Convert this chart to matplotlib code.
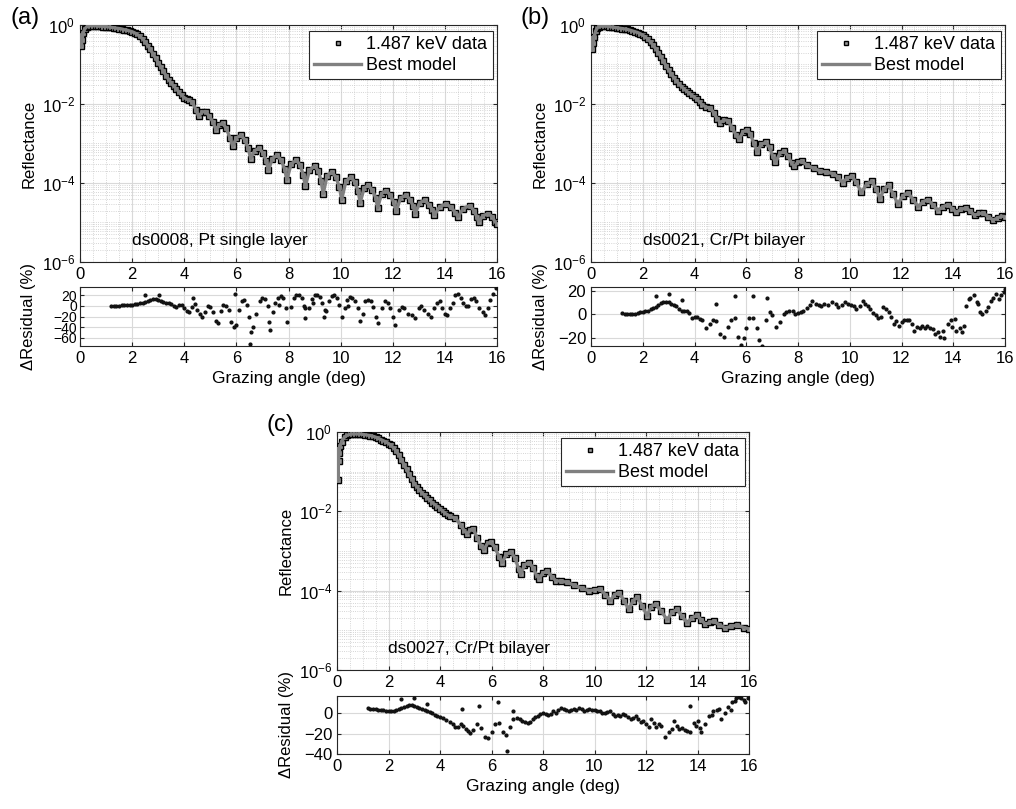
import numpy as np
import matplotlib
matplotlib.use("Agg")
import matplotlib.pyplot as plt
from matplotlib.ticker import MultipleLocator, LogLocator, NullFormatter

plt.rcParams['font.family'] = ['Liberation Sans', 'DejaVu Sans']
plt.rcParams['mathtext.fontset'] = 'custom'
plt.rcParams['mathtext.rm'] = 'Liberation Sans'
plt.rcParams['mathtext.it'] = 'Liberation Sans:italic'

# ---- panel (a): ds0008, Pt single layer ----
x_a = [0.02, 0.05, 0.08, 0.12, 0.18, 0.25, 0.3, 0.4, 0.5, 0.6, 0.7, 0.8, 0.9, 1.0, 1.1,
       1.2, 1.3, 1.4, 1.5, 1.6, 1.7, 1.8, 1.9, 2.0, 2.1, 2.2, 2.3, 2.4, 2.5, 2.6, 2.7, 2.8,
       2.9, 3.0, 3.1, 3.2, 3.3, 3.4, 3.5, 3.6, 3.7, 3.8, 3.9, 4.0, 4.1, 4.2, 4.3, 4.45, 4.55,
       4.7, 4.82, 4.95, 5.1, 5.22, 5.35, 5.47, 5.6, 5.75, 5.86, 6.0, 6.17, 6.32, 6.45, 6.55,
       6.7, 6.88, 7.03, 7.15, 7.23, 7.38, 7.56, 7.72, 7.85, 7.94, 8.1, 8.3, 8.45, 8.57, 8.65,
       8.8, 9.0, 9.15, 9.25, 9.33, 9.48, 9.66, 9.82, 9.95, 10.04, 10.2, 10.39, 10.55, 10.67,
       10.75, 10.9, 11.06, 11.22, 11.35, 11.42, 11.57, 11.74, 11.9, 12.03, 12.13, 12.3, 12.5,
       12.67, 12.78, 12.86, 13.03, 13.22, 13.4, 13.52, 13.6, 13.8, 14.05, 14.25, 14.4, 14.5,
       14.7, 14.95, 15.12, 15.22, 15.3, 15.45, 15.65, 15.82, 15.92, 16.0]
logR_a = [-0.25, -0.54, -0.37, -0.2, -0.1, -0.05, -0.03, -0.02, -0.02, -0.02, -0.03, -0.03,
          -0.04, -0.04, -0.05, -0.06, -0.07, -0.08, -0.09, -0.1, -0.12, -0.13, -0.15, -0.17,
          -0.2, -0.24, -0.29, -0.35, -0.43, -0.52, -0.62, -0.73, -0.84, -0.95, -1.06, -1.17,
          -1.28, -1.38, -1.47, -1.55, -1.62, -1.7, -1.78, -1.84, -1.88, -1.91, -1.94, -2.15,
          -2.31, -2.2, -2.19, -2.3, -2.45, -2.66, -2.52, -2.49, -2.6, -2.85, -3.07, -2.86,
          -2.79, -2.9, -3.12, -3.38, -3.18, -3.12, -3.25, -3.45, -3.68, -3.38, -3.3, -3.42,
          -3.65, -3.92, -3.52, -3.42, -3.55, -3.8, -4.08, -3.68, -3.57, -3.7, -3.95, -4.27,
          -3.82, -3.72, -3.85, -4.1, -4.42, -3.96, -3.85, -3.98, -4.2, -4.5, -4.13, -4.06,
          -4.18, -4.38, -4.63, -4.27, -4.19, -4.3, -4.48, -4.72, -4.38, -4.31, -4.42, -4.58,
          -4.78, -4.5, -4.44, -4.55, -4.68, -4.81, -4.6, -4.53, -4.62, -4.75, -4.86, -4.65,
          -4.57, -4.7, -4.85, -4.99, -4.83, -4.78, -4.85, -4.98, -5.03]
rx_a = [1.2, 1.3, 1.4, 1.5, 1.6, 1.7, 1.8, 1.9, 2.0, 2.1, 2.2, 2.3, 2.4, 2.5, 2.6, 2.7, 2.8,
        2.9, 3.0, 3.1, 3.2, 3.3, 3.4, 3.5, 3.6, 3.7, 3.8, 3.9, 4.0, 4.1, 4.2, 4.3, 4.4, 4.5,
        4.6, 4.7, 4.8, 4.9, 5.0, 5.1, 5.2, 5.3, 5.4, 5.5, 5.6, 5.7, 5.8, 5.9, 6.0, 6.1, 6.2,
        6.3, 6.4, 6.5, 6.55, 6.62, 6.75, 6.9, 7.0, 7.1, 7.2, 7.25, 7.3, 7.4, 7.5, 7.6, 7.7,
        7.8, 7.9, 7.95, 8.1, 8.2, 8.3, 8.4, 8.5, 8.6, 8.65, 8.8, 8.9, 9.0, 9.1, 9.2, 9.3, 9.35,
        9.45, 9.55, 9.65, 9.75, 9.85, 9.95, 10.05, 10.15, 10.25, 10.35, 10.45, 10.55, 10.65,
        10.75, 10.85, 10.95, 11.05, 11.15, 11.25, 11.35, 11.45, 11.6, 11.7, 11.8, 11.9, 12.0,
        12.1, 12.25, 12.35, 12.45, 12.6, 12.75, 12.85, 13.0, 13.1, 13.2, 13.35, 13.45, 13.6,
        13.7, 13.8, 13.9, 14.0, 14.1, 14.2, 14.3, 14.4, 14.5, 14.6, 14.7, 14.8, 14.9, 15.0,
        15.1, 15.2, 15.3, 15.45, 15.55, 15.65, 15.75, 15.85, 15.95,
        2.5, 3.05, 4.35, 5.95, 6.52, 8.62, 9.4, 7.65, 8.95, 10.3]
res_a = [0, 0, 0.3, 0.5, 0.8, 1.2, 1.5, 1.8, 2.2, 3, 3.5, 4.5, 6, 7, 9, 11, 12, 12, 10, 8,
         7, 6, 6, 4, 0, -2, 1, 2, -4, -10, -12, -2, 3, -8, -15, -20, -12, 0, -2, -12, -28,
         -32, -10, 2, 0, -8, -30, -40, -35, -8, 8, 10, 2, -20, -48, -40, -15, 8, 14, 12, 0,
         -30, -45, -12, 5, 15, 18, 14, -5, -30, -3, 15, 20, 20, 15, 0, -22, -5, 12, 20, 20,
         17, 5, -20, -10, 8, 19, 20, 15, 2, -20, -5, 10, 17, 15, 8, -5, -28, -15, 8, 11, 8,
         -2, -20, -33, -5, 8, 5, -5, -20, -35, -8, -2, -5, -15, -18, -22, -5, 0, -8, -15,
         -20, -5, 5, 8, -5, -15, -18, -5, 5, 20, 22, 15, 5, 0, 0, 12, 15, 8, -5, -12, -18,
         -5, 10, 22, 33,
         20, 20, 14, 22, -72, -5, -8, 2, 5, 0]

# ---- panel (b): ds0021, Cr/Pt bilayer ----
x_b = [0.02, 0.05, 0.08, 0.12, 0.18, 0.25, 0.3, 0.4, 0.5, 0.6, 0.7, 0.8, 0.9, 1.0, 1.1,
       1.2, 1.3, 1.4, 1.5, 1.6, 1.7, 1.8, 1.9, 2.0, 2.1, 2.2, 2.3, 2.4, 2.5, 2.6, 2.7, 2.8,
       2.9, 3.0, 3.1, 3.2, 3.3, 3.4, 3.5, 3.6, 3.7, 3.8, 3.9, 4.0, 4.1, 4.2, 4.3, 4.45, 4.6,
       4.75, 4.88, 5.0, 5.15, 5.3, 5.45, 5.6, 5.72, 5.88, 6.02, 6.15, 6.3, 6.42, 6.58, 6.75,
       6.9, 7.02, 7.13, 7.3, 7.46, 7.62, 7.75, 7.85, 8.0, 8.15, 8.35, 8.6, 8.85, 9.1, 9.35,
       9.55, 9.72, 9.9, 10.08, 10.25, 10.45, 10.65, 10.85, 11.02, 11.17, 11.32, 11.5, 11.68,
       11.86, 12.05, 12.25, 12.45, 12.64, 12.84, 13.03, 13.22, 13.4, 13.6, 13.8, 13.97, 14.12,
       14.3, 14.5, 14.66, 14.83, 15.0, 15.15, 15.35, 15.55, 15.72, 15.88, 16.0]
logR_b = [-0.32, -0.62, -0.45, -0.3, -0.15, -0.07, -0.04, -0.03, -0.03, -0.03, -0.04, -0.05,
          -0.06, -0.07, -0.08, -0.09, -0.1, -0.11, -0.13, -0.15, -0.17, -0.19, -0.22, -0.26,
          -0.3, -0.36, -0.43, -0.51, -0.6, -0.7, -0.8, -0.92, -1.03, -1.14, -1.24, -1.33,
          -1.42, -1.49, -1.56, -1.62, -1.68, -1.73, -1.78, -1.83, -1.88, -1.95, -2.02, -2.08,
          -2.1, -2.22, -2.38, -2.47, -2.4, -2.42, -2.6, -2.78, -2.89, -2.7, -2.66, -2.75, -3.0,
          -3.22, -3.02, -2.97, -3.1, -3.32, -3.48, -3.25, -3.2, -3.32, -3.5, -3.58, -3.47,
          -3.45, -3.55, -3.63, -3.69, -3.73, -3.76, -3.85, -3.99, -3.88, -3.83, -3.98, -4.24,
          -4.03, -3.96, -4.15, -4.4, -4.15, -4.06, -4.28, -4.54, -4.32, -4.25, -4.42, -4.6,
          -4.47, -4.42, -4.56, -4.7, -4.6, -4.55, -4.65, -4.74, -4.67, -4.63, -4.72, -4.82,
          -4.77, -4.76, -4.85, -4.94, -4.88, -4.84, -4.85]
rx_b = [1.2, 1.3, 1.4, 1.5, 1.6, 1.7, 1.8, 1.9, 2.0, 2.1, 2.2, 2.3, 2.4, 2.5, 2.6, 2.7, 2.8,
        2.9, 3.0, 3.1, 3.2, 3.3, 3.4, 3.5, 3.6, 3.7, 3.8, 3.9, 4.0, 4.1, 4.2, 4.3, 4.45, 4.6,
        4.7, 4.85, 5.0, 5.15, 5.3, 5.4, 5.55, 5.7, 5.8, 5.9, 6.0, 6.1, 6.25, 6.4, 6.5, 6.6,
        6.75, 6.9, 7.0, 7.15, 7.3, 7.45, 7.55, 7.65, 7.8, 7.9, 8.0, 8.1, 8.2, 8.35, 8.45, 8.55,
        8.7, 8.8, 8.9, 9.0, 9.15, 9.3, 9.45, 9.55, 9.7, 9.8, 9.95, 10.05, 10.15, 10.25, 10.4,
        10.5, 10.6, 10.7, 10.8, 10.9, 11.0, 11.1, 11.2, 11.3, 11.4, 11.5, 11.6, 11.7, 11.8,
        11.9, 12.0, 12.1, 12.2, 12.3, 12.4, 12.5, 12.6, 12.7, 12.8, 12.9, 13.0, 13.1, 13.2,
        13.3, 13.4, 13.5, 13.6, 13.65, 13.8, 13.9, 13.95, 14.05, 14.1, 14.25, 14.35, 14.4,
        14.5, 14.6, 14.65, 14.8, 14.9, 14.95, 15.05, 15.1, 15.25, 15.35, 15.45, 15.55, 15.65,
        15.75, 15.85, 15.95, 16.0,
        2.5, 3.0, 3.5, 4.85, 5.55, 6.25, 6.8]
res_b = [1, 0, 0, 0, 0.3, 0.5, 1, 1.5, 2, 2.5, 3, 4, 5, 6, 8, 9.5, 10, 10, 10, 9, 8, 7, 4,
         3, 3, 3, 1, -3, -2, -2, -4, -5, -12, -8, -5, -6, -17, -19, -11, -5, -3, -19, -26,
         -20, -12, -3, -3, -12, -22, -27, -5, 2, -1, -11, -7, 0, 2, 3, 3, 0, 1, 2, 3, 5, 8,
         11, 9, 8, 7, 9, 8, 10, 9, 6, 8, 10, 9, 8, 7, 4, 7, 11, 9, 7, 4, 1, -1, -3, -2, 6, 4,
         2, -2, -8, -6, -10, -7, -5, -5, -5, -8, -14, -11, -12, -10, -12, -10, -12, -13, -17,
         -15, -19, -14, -20, -8, -5, -11, -4, -14, -12, -15, -10, 7, 13, 14, 16, 10, 9, 2,
         0, 3, 6, 11, 14, 17, 13, 16, 19, 21,
         15, 17, 12, 9, 15, 15, 14]

# ---- panel (c): ds0027, Cr/Pt bilayer ----
x_c = [0.02, 0.04, 0.06, 0.08, 0.12, 0.18, 0.3, 0.4, 0.5, 0.6, 0.7, 0.8, 0.9, 1.0, 1.1,
       1.2, 1.3, 1.4, 1.5, 1.6, 1.7, 1.8, 1.9, 2.0, 2.1, 2.2, 2.3, 2.4, 2.5, 2.6, 2.7, 2.8,
       2.9, 3.0, 3.1, 3.2, 3.3, 3.4, 3.5, 3.6, 3.7, 3.8, 3.9, 4.0, 4.1, 4.2, 4.3, 4.4, 4.6,
       4.8, 4.95, 5.06, 5.18, 5.3, 5.45, 5.6, 5.7, 5.85, 5.98, 6.12, 6.3, 6.42, 6.58, 6.76,
       6.92, 7.05, 7.13, 7.28, 7.46, 7.62, 7.75, 7.85, 8.0, 8.17, 8.35, 8.5, 8.7, 8.95, 9.2,
       9.5, 9.8, 10.0, 10.22, 10.42, 10.62, 10.78, 10.95, 11.15, 11.33, 11.5, 11.66, 11.85,
       12.04, 12.2, 12.37, 12.6, 12.82, 13.0, 13.21, 13.4, 13.6, 13.8, 13.98, 14.15, 14.31,
       14.47, 14.63, 14.85, 15.08, 15.3, 15.54, 15.8, 16.0]
logR_c = [-0.42, -1.22, -0.72, -0.53, -0.35, -0.24, -0.12, -0.08, -0.06, -0.05, -0.05, -0.05,
          -0.05, -0.06, -0.07, -0.08, -0.09, -0.11, -0.13, -0.16, -0.19, -0.22, -0.25, -0.29,
          -0.34, -0.4, -0.48, -0.58, -0.7, -0.82, -0.94, -1.06, -1.18, -1.3, -1.38, -1.46,
          -1.53, -1.6, -1.66, -1.72, -1.78, -1.83, -1.88, -1.93, -1.99, -2.05, -2.09, -2.13,
          -2.17, -2.34, -2.5, -2.57, -2.46, -2.45, -2.68, -2.88, -2.97, -2.8, -2.78, -2.9,
          -3.15, -3.29, -3.08, -3.03, -3.18, -3.45, -3.59, -3.35, -3.29, -3.42, -3.62, -3.7,
          -3.55, -3.51, -3.65, -3.75, -3.76, -3.79, -3.86, -3.94, -4.0, -3.98, -3.96, -4.1,
          -4.25, -4.1, -4.05, -4.25, -4.47, -4.25, -4.17, -4.38, -4.63, -4.4, -4.34, -4.52,
          -4.74, -4.55, -4.47, -4.65, -4.81, -4.68, -4.62, -4.74, -4.85, -4.8, -4.77, -4.86,
          -4.94, -4.9, -4.87, -4.93, -4.96]
rx_c = [1.2, 1.3, 1.4, 1.5, 1.6, 1.7, 1.8, 1.9, 2.0, 2.1, 2.2, 2.3, 2.4, 2.5, 2.6, 2.7, 2.8,
        2.9, 3.0, 3.1, 3.2, 3.3, 3.4, 3.5, 3.6, 3.7, 3.8, 3.9, 4.0, 4.1, 4.25, 4.4, 4.5, 4.6,
        4.7, 4.8, 4.9, 5.0, 5.1, 5.15, 5.3, 5.45, 5.6, 5.75, 5.85, 6.0, 6.15, 6.3, 6.45, 6.55,
        6.7, 6.85, 7.0, 7.1, 7.2, 7.3, 7.4, 7.5, 7.6, 7.7, 7.8, 7.9, 8.0, 8.1, 8.2, 8.3, 8.4,
        8.5, 8.6, 8.7, 8.8, 8.9, 9.0, 9.1, 9.2, 9.3, 9.4, 9.5, 9.6, 9.7, 9.8, 9.9, 10.0, 10.1,
        10.2, 10.3, 10.4, 10.5, 10.6, 10.7, 10.8, 10.9, 11.0, 11.1, 11.2, 11.3, 11.4, 11.5,
        11.6, 11.7, 11.8, 11.9, 12.0, 12.1, 12.2, 12.3, 12.4, 12.5, 12.6, 12.75, 12.9, 13.0,
        13.1, 13.2, 13.3, 13.4, 13.5, 13.6, 13.7, 13.85, 13.95, 14.0, 14.1, 14.15, 14.3,
        14.45, 14.55, 14.6, 14.75, 14.85, 14.9, 15.05, 15.2, 15.3, 15.35, 15.45, 15.5, 15.6,
        15.7, 15.8, 15.85, 15.95,
        2.5, 3.0, 3.5, 4.85, 5.5, 6.25, 6.6, 6.85, 13.7]
res_c = [5, 4, 4, 4, 3, 3, 3, 2, 2, 2, 2, 3, 4, 5, 6, 7, 8, 8, 7, 6, 5, 4, 3, 2, 1, 0, -2,
         -3, -4, -5, -7, -9, -11, -13, -13, -11, -12, -15, -17, -19, -16, -11, -14, -23,
         -24, -18, -11, -10, -18, -21, -13, -6, -5, -6, -8, -9, -10, -9, -6, -4, -3, -1, 0,
         -1, -2, -1, 2, 0, 3, 5, 4, 3, 2, 3, 4, 3, 5, 4, 2, 3, 4, 3, 3, 2, 2, 0, 0, 1, 2, -1,
         -3, -2, -3, -1, -2, -4, -6, -5, -3, -6, -9, -8, -11, -13, -6, -10, -13, -11, -12,
         -23, -18, -15, -8, -12, -15, -14, -16, -17, -18, -10, -12, -8, -14, -18, -11, -3,
         -2, 2, 3, 4, -6, 0, 6, 3, 11, 12, 15, 16, 15, 13, 11, 15,
         14, 15, 9, 4, 7, 11, -37, 2, 7]

panels = [
    ('(a)', 'ds0008, Pt single layer', x_a, logR_a, rx_a, res_a, (-75, 35), [-60, -40, -20, 0, 20]),
    ('(b)', 'ds0021, Cr/Pt bilayer', x_b, logR_b, rx_b, res_b, (-27, 23), [-20, 0, 20]),
    ('(c)', 'ds0027, Cr/Pt bilayer', x_c, logR_c, rx_c, res_c, (-40, 17), [-40, -20, 0]),
]

# axes boxes in figure pixels: left, right, main top, main bottom, resid top, resid bottom
boxes = [(80, 497, 25, 262, 287, 346),
         (591, 1005, 25, 262, 287, 346),
         (337, 749, 432, 670, 696, 754)]

W, H = 1016, 809
fig = plt.figure(figsize=(W / 100, H / 100), dpi=100)

edge = '#262626'
for k, ((lab, note, xs, lr, rx, rr, rlim, rticks), (l, r, t, b, rt, rb)) in enumerate(zip(panels, boxes)):
    ax = fig.add_axes([l / W, 1 - b / H, (r - l) / W, (b - t) / H])
    axr = fig.add_axes([l / W, 1 - rb / H, (r - l) / W, (rb - rt) / H])

    R = 10.0 ** np.array(lr)
    ax.plot(xs, R, ls='none', marker='s', ms=4.4, mfc='#999999', mec='#000000', mew=1.0,
            label='1.487 keV data', zorder=3)
    ax.plot(xs, R, color='#808080', lw=2.4, label='Best model', zorder=4)
    ax.set_yscale('log')
    ax.set_xlim(0, 16)
    ax.set_ylim(1e-6, 1)
    ax.xaxis.set_major_locator(MultipleLocator(2))
    ax.xaxis.set_minor_locator(MultipleLocator(0.5))
    ax.set_yticks([1e-6, 1e-4, 1e-2, 1])
    ax.yaxis.set_minor_locator(LogLocator(base=10, subs=np.arange(1, 10), numticks=20))
    ax.yaxis.set_minor_formatter(NullFormatter())
    ax.grid(True, which='major', color='#d9d9d9', lw=0.8)
    ax.grid(True, which='minor', color='#c8c8c8', lw=0.6, ls=':')
    ax.set_ylabel('Reflectance', fontsize=12)
    ax.text(2.0, 10 ** -5.45, note, fontsize=12.5, va='center', ha='left', zorder=5)
    leg = ax.legend(loc='upper right', bbox_to_anchor=(0.99, 0.975), fontsize=13,
                    fancybox=False, framealpha=1, edgecolor='#262626', borderpad=0.3,
                    handlelength=2.6, handletextpad=0.3, labelspacing=0.2, borderaxespad=0,
                    markerscale=0.8)
    leg.get_frame().set_linewidth(0.8)
    fig.text((l - 70) / W, 1 - (t - 7) / H, lab, fontsize=17, ha='left', va='center')

    axr.plot(rx, rr, ls='none', marker='o', ms=2.0, color='#111111', zorder=3)
    axr.set_xlim(0, 16)
    axr.set_ylim(*rlim)
    axr.set_yticks(rticks)
    axr.xaxis.set_major_locator(MultipleLocator(2))
    axr.grid(True, color='#d9d9d9', lw=0.8)
    axr.set_ylabel('\u0394Residual (%)', fontsize=12)
    axr.set_xlabel('Grazing angle (deg)', fontsize=12.5)

    for a in (ax, axr):
        a.set_axisbelow(True)
        a.tick_params(direction='in', which='both', top=True, right=True, labelsize=12,
                      color=edge, length=3)
        a.tick_params(which='minor', length=0)
        for s in a.spines.values():
            s.set_color(edge)
            s.set_linewidth(0.8)
    if k == 0:
        axr.tick_params(axis='y', labelsize=10, pad=2)
    ax.yaxis.set_label_coords(-0.105, 0.5)
    axr.yaxis.set_label_coords(-0.105, 0.5)

fig.savefig('out.png', dpi=100)
